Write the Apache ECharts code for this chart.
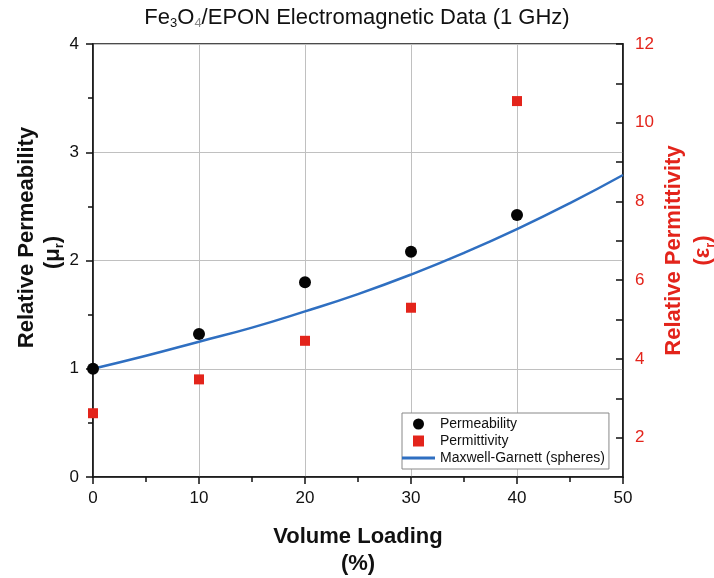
<!DOCTYPE html>
<html><head><meta charset="utf-8">
<script src="https://cdn.jsdelivr.net/npm/echarts@6/dist/echarts.min.js"></script>
<style>html,body{margin:0;padding:0;background:#fff}#c{width:714px;height:578px}</style>
</head><body><div id="c"></div>
<script>
var loadings = [0, 10, 20, 30, 40];
var permeability = [1.0, 1.32, 1.80, 2.08, 2.42];
var permittivity = [2.62, 3.48, 4.46, 5.30, 10.55];
var mgLoadings = [0, 5, 10, 15, 20, 25, 30, 35, 40, 45, 50];
var mgValues = [1.00, 1.12, 1.25, 1.38, 1.53, 1.69, 1.87, 2.07, 2.29, 2.53, 2.79];
var xTicks = [0, 10, 20, 30, 40, 50];
var leftTicks = [0, 1, 2, 3, 4];
var rightTicks = [2, 4, 6, 8, 10, 12];

function pairs(xs, ys){ return xs.map(function(x,i){ return [x, ys[i]]; }); }

var RED = '#e3241b';
var BLUE = '#2f6fc1';
var FONT = 'Liberation Sans';
var chart = echarts.init(document.getElementById('c'));
chart.setOption({
  backgroundColor: '#fff',
  animation: false,
  title: {
    text: '{a|Fe}{s|3}{a|O}{g|4}{a|/EPON Electromagnetic Data (1 GHz)}',
    left: 'center', top: 0,
    textStyle: {
      fontWeight: 'normal',
      rich: {
        a: {fontFamily: FONT, fontSize: 22, fontWeight: 'normal', color: '#111'},
        s: {fontFamily: FONT, fontSize: 13, fontWeight: 'normal', color: '#111', padding: [12,0,0,0]},
        g: {fontFamily: FONT, fontSize: 13, fontWeight: 'normal', color: '#888', padding: [12,0,0,0]}
      }
    }
  },
  grid: {left: 93, right: 91, top: 44, bottom: 101, outerBoundsMode: 'none', containLabel: false,
    show: true, borderColor: '#111', borderWidth: 1.5},
  legend: {
    orient: 'vertical', left: 402, top: 413,
    backgroundColor: '#fff', borderColor: '#888', borderWidth: 1,
    padding: [4, 4, 4, 0], itemGap: 3, itemWidth: 33, itemHeight: 11,
    symbolKeepAspect: true,
    textStyle: {fontFamily: FONT, fontSize: 14, color: '#111'},
    data: [
      {name: 'Permeability', icon: 'circle'},
      {name: 'Permittivity', icon: 'path://M0,0L10,0L10,10L0,10Z'},
      {name: 'Maxwell-Garnett (spheres)', icon: 'path://M0,0L33,0L33,3L0,3Z'}
    ]
  },
  xAxis: {
    type: 'value', min: 0, max: 50, interval: 10,
    name: '{t|Volume Loading}\n{t|(%)}', nameLocation: 'middle', nameGap: 46, nameMoveOverlap: false,
    nameTextStyle: {rich: {t: {fontFamily: FONT, fontSize: 22, fontWeight: 'bold', color: '#111', lineHeight: 27}}},
    axisLine: {lineStyle: {color: '#111', width: 1.5}},
    axisTick: {length: 7, lineStyle: {color: '#111', width: 1.5}},
    minorTick: {show: true, splitNumber: 2, length: 5, lineStyle: {color: '#111', width: 1.5}},
    axisLabel: {fontFamily: FONT, fontSize: 17, color: '#111', margin: 13,
      formatter: function(v){ return xTicks.indexOf(v) >= 0 ? String(v) : ''; }},
    splitLine: {show: true, lineStyle: {color: '#c0c0c0', width: 1}}
  },
  yAxis: [{
    type: 'value', min: 0, max: 4, interval: 1, position: 'left',
    name: '{t|Relative Permeability}\n{t|(μ}{s|r}{u|)}', nameLocation: 'middle', nameGap: 27, nameMoveOverlap: false,
    nameTextStyle: {padding: [0, 0, 0, 46], rich: {
      t: {fontFamily: FONT, fontSize: 22, fontWeight: 'bold', color: '#111', lineHeight: 26},
      u: {fontFamily: FONT, fontSize: 22, fontWeight: 'bold', color: '#111', lineHeight: 26, padding: [0, 30, 0, 0]},
      s: {fontFamily: FONT, fontSize: 13, fontWeight: 'bold', color: '#111', lineHeight: 26, verticalAlign: 'bottom'}
    }},
    axisLine: {show: true, lineStyle: {color: '#111', width: 1.5}},
    axisTick: {length: 7, lineStyle: {color: '#111', width: 1.5}},
    minorTick: {show: true, splitNumber: 2, length: 5, lineStyle: {color: '#111', width: 1.5}},
    axisLabel: {fontFamily: FONT, fontSize: 17, color: '#111', margin: 14,
      formatter: function(v){ return leftTicks.indexOf(v) >= 0 ? String(v) : ''; }},
    splitLine: {show: true, lineStyle: {color: '#c0c0c0', width: 1}}
  }, {
    type: 'value', min: 1, max: 12, interval: 1, position: 'right',
    name: '{t|Relative Permittivity}\n{t|(ε}{s|r}{t|)}', nameLocation: 'middle', nameGap: 36, nameRotate: 90, nameMoveOverlap: false,
    nameTextStyle: {padding: [0, 0, 0, 20], rich: {
      t: {fontFamily: FONT, fontSize: 22, fontWeight: 'bold', color: RED, lineHeight: 29},
      s: {fontFamily: FONT, fontSize: 13, fontWeight: 'bold', color: RED, lineHeight: 29, verticalAlign: 'bottom'}
    }},
    axisLine: {show: true, lineStyle: {color: '#111', width: 1.5}},
    axisTick: {inside: true, length: 7, lineStyle: {color: '#111', width: 1.5}},
    axisLabel: {fontFamily: FONT, fontSize: 17, color: RED, margin: 12,
      showMinLabel: false,
      formatter: function(v){ return rightTicks.indexOf(v) >= 0 ? String(v) : ''; }},
    splitLine: {show: false}
  }],
  series: [{
    name: 'Maxwell-Garnett (spheres)', type: 'line', yAxisIndex: 0, smooth: true,
    showSymbol: false, symbol: 'none', z: 2,
    lineStyle: {color: BLUE, width: 2.5}, itemStyle: {color: BLUE},
    data: pairs(mgLoadings, mgValues)
  }, {
    name: 'Permeability', type: 'scatter', yAxisIndex: 0, symbol: 'circle', symbolSize: 12, z: 3,
    itemStyle: {color: '#050505', opacity: 1},
    data: pairs(loadings, permeability)
  }, {
    name: 'Permittivity', type: 'scatter', yAxisIndex: 1, symbol: 'rect', symbolSize: 10, z: 3,
    itemStyle: {color: RED, opacity: 1},
    data: pairs(loadings, permittivity)
  }]
});
</script></body></html>
